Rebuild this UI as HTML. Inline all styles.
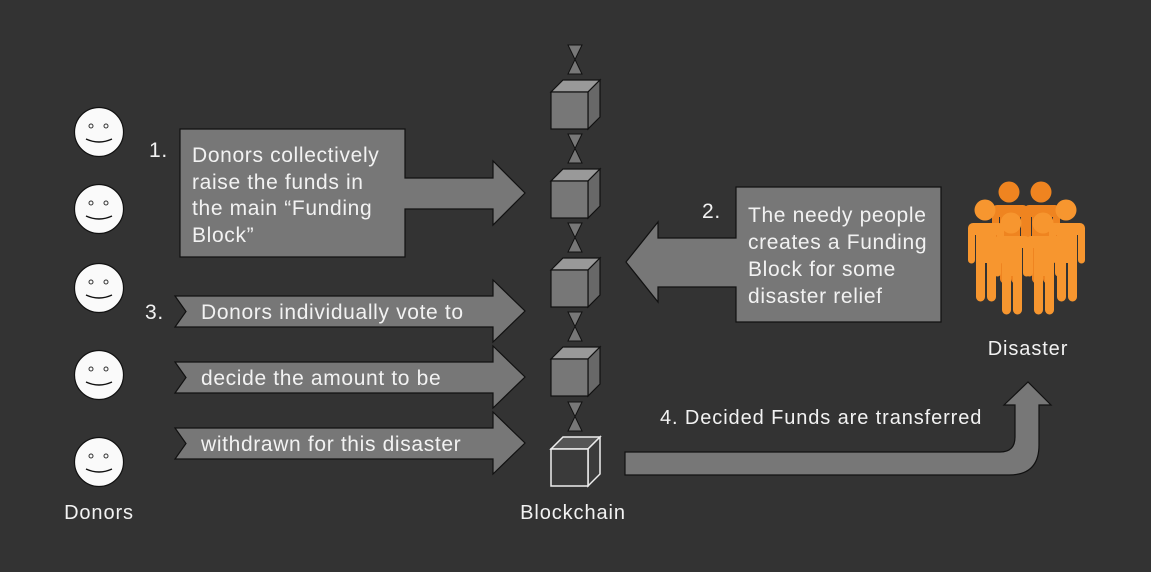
<!DOCTYPE html>
<html><head><meta charset="utf-8"><style>
html,body{margin:0;padding:0;background:#333333;}
svg{display:block}
text{font-family:"Liberation Sans",sans-serif;fill:#f2f2f2;font-size:21px;letter-spacing:0.65px}
text.l{font-size:20px;letter-spacing:0.9px}
</style></head><body>
<svg width="1151" height="572" viewBox="0 0 1151 572" xmlns="http://www.w3.org/2000/svg">
<rect width="1151" height="572" fill="#333333"/>
<defs>
<g id="face">
<circle cx="0" cy="0" r="24.5" fill="#fafafa" stroke="#111" stroke-width="1.2"/>
<circle cx="-8" cy="-6" r="2" fill="none" stroke="#333" stroke-width="1"/>
<circle cx="7" cy="-6" r="2" fill="none" stroke="#333" stroke-width="1"/>
<path d="M-13 7 Q0 13 13 7" fill="none" stroke="#111" stroke-width="1.4"/>
</g>
<g id="cube">
<polygon points="0,0 37,0 49,-12 12,-12" fill="#999" stroke="#111" stroke-width="1.2"/>
<polygon points="37,0 49,-12 49,25 37,37" fill="#686868" stroke="#111" stroke-width="1.2"/>
<rect x="0" y="0" width="37" height="37" fill="#777" stroke="#111" stroke-width="1.2"/>
</g>
<g id="hg">
<polygon points="-7,0 7,0 -7,29 7,29" fill="#777" stroke="#111" stroke-width="1"/>
</g>
<g id="sarrow">
<polygon points="0,16 318,16 318,0 350,31 318,62 318,47 0,47 11,31.5" fill="#777" stroke="#111" stroke-width="1.2"/>
</g>
<g id="person">
<circle cx="0" cy="-36" r="10.5"/>
<path d="M-14,-23 h28 a5,5 0 0 1 5,5 v32 a3.5,3.5 0 0 1 -7,0 v-25 h-1 v62 a4.5,4.5 0 0 1 -9,0 v-34 h-2 v34 a4.5,4.5 0 0 1 -9,0 v-62 h-1 v25 a3.5,3.5 0 0 1 -7,0 v-32 a5,5 0 0 1 5,-5z"/>
</g>
</defs>

<use href="#face" x="99" y="132"/>
<use href="#face" x="99" y="209"/>
<use href="#face" x="99" y="288"/>
<use href="#face" x="99" y="375"/>
<use href="#face" x="99" y="462"/>

<polygon points="180,129 405,129 405,178 493,178 493,161 525,193 493,225 493,209 405,209 405,257 180,257" fill="#777" stroke="#111" stroke-width="1.2"/>
<text x="149" y="157">1.</text>
<text x="192" y="162">Donors collectively</text>
<text x="192" y="189">raise the funds in</text>
<text x="192" y="215">the main “Funding</text>
<text x="192" y="242">Block”</text>

<polygon points="941,187 736,187 736,238 658,238 658,222 626,262 658,302 658,287 736,287 736,322 941,322" fill="#777" stroke="#111" stroke-width="1.2"/>
<text x="702" y="218">2.</text>
<text x="748" y="222">The needy people</text>
<text x="748" y="249">creates a Funding</text>
<text x="748" y="276">Block for some</text>
<text x="748" y="303">disaster relief</text>

<use href="#sarrow" x="175" y="280"/>
<use href="#sarrow" x="175" y="346"/>
<use href="#sarrow" x="175" y="412"/>
<text x="145" y="319">3.</text>
<text x="201" y="319">Donors individually vote to</text>
<text x="201" y="385">decide the amount to be</text>
<text x="201" y="451">withdrawn for this disaster</text>

<use href="#hg" x="575" y="45"/>
<use href="#hg" x="575" y="134"/>
<use href="#hg" x="575" y="223"/>
<use href="#hg" x="575" y="312"/>
<use href="#hg" x="575" y="402"/>
<use href="#cube" x="551" y="92"/>
<use href="#cube" x="551" y="181"/>
<use href="#cube" x="551" y="270"/>
<use href="#cube" x="551" y="359"/>
<g stroke="#eee" stroke-width="1.5">
<polygon points="551,449 588,449 600,437 563,437" fill="#555"/>
<polygon points="588,449 600,437 600,474 588,486" fill="#3c3c3c"/>
<rect x="551" y="449" width="37" height="37" fill="#3a3a3a"/>
</g>

<path d="M625,452 H1000 Q1015,452 1015,437 V405 H1004 L1028,382 L1051,405 H1039 V445 Q1039,475 1009,475 H625 Z" fill="#777" stroke="#111" stroke-width="1.2"/>
<text class="l" x="660" y="424">4. Decided Funds are transferred</text>

<g fill="#ef8420">
<use href="#person" x="1009" y="228"/>
<use href="#person" x="1041" y="228"/>
</g>
<g fill="#f7962f">
<use href="#person" x="985" y="246"/>
<use href="#person" x="1066" y="246"/>
<use href="#person" x="1011" y="259"/>
<use href="#person" x="1043" y="259"/>
</g>

<text class="l" x="99" y="519" text-anchor="middle">Donors</text>
<text class="l" x="573" y="519" text-anchor="middle">Blockchain</text>
<text class="l" x="1028" y="355" text-anchor="middle">Disaster</text>
</svg>
</body></html>
